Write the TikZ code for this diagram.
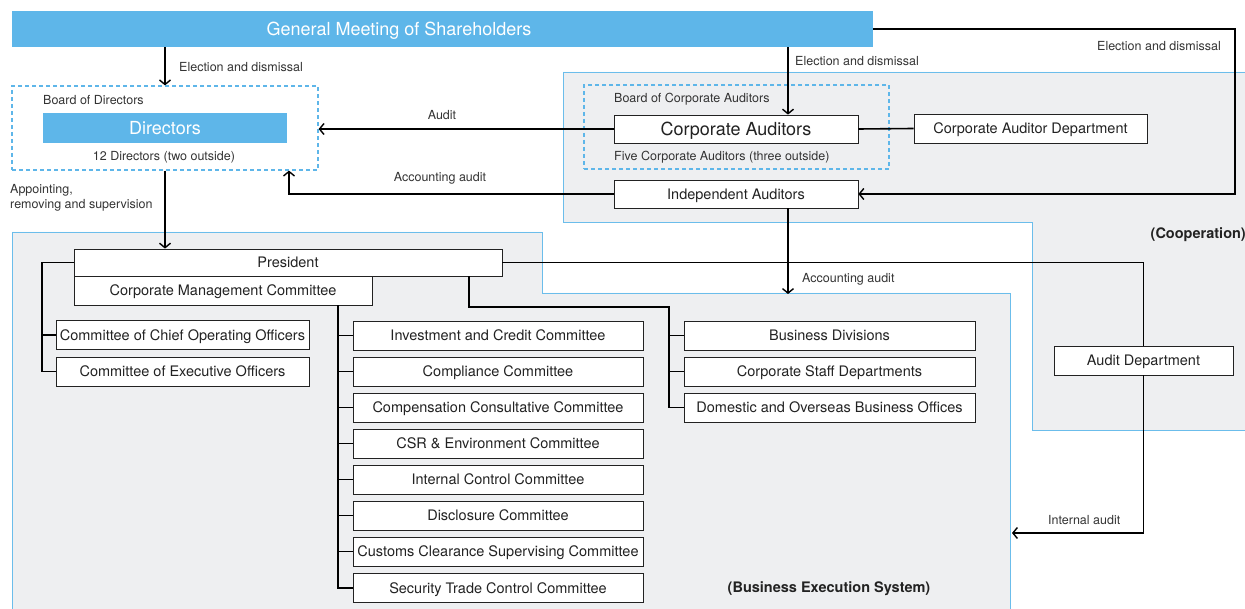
\documentclass[tikz,border=0pt]{standalone}
\usepackage{fontspec}
\setmainfont{TeX Gyre Heros}
\usetikzlibrary{arrows.meta,calc}
\definecolor{sky}{HTML}{5EB6E9}
\definecolor{regionfill}{HTML}{EEEFF1}
\definecolor{regionline}{HTML}{6BBDEB}
\definecolor{txt}{HTML}{222222}
\definecolor{lbltxt}{HTML}{333333}
\begin{document}
\begin{tikzpicture}[x=1pt,y=-1pt,
  region/.style={fill=regionfill,draw=regionline,line width=0.9pt},
  box/.style={draw=txt,fill=white,line width=0.8pt,inner sep=0pt,text=txt,
    font=\fontsize{14.5}{17}\selectfont,minimum height=29pt,text height=10.4pt,text depth=0pt},
  bluebox/.style={fill=sky,inner sep=0pt,text=white,font=\fontsize{18}{21}\selectfont,
    text height=13pt,text depth=0pt},
  dbox/.style={draw=sky,line width=1.2pt,dash pattern=on 4pt off 3pt,inner sep=0pt},
  lbl/.style={inner sep=0pt,text=lbltxt,font=\fontsize{12.5}{15.5}\selectfont},
  blbl/.style={inner sep=0pt,text=txt,font=\fontsize{14.5}{16}\selectfont\bfseries},
  conn/.style={draw=black,line width=1.6pt},
  arr/.style={conn,-{Straight Barb[length=4.5pt,width=11pt,line width=1.4pt]}}
]
\useasboundingbox (0,0) rectangle (1245,609);
\clip (0,0) rectangle (1245,609);

% regions
\path[region] (12,232) -- (542,232) -- (542,293) -- (1010,293) -- (1010,620) -- (12,620) -- cycle;
\path[region] (563,72) -- (1260,72) -- (1260,430) -- (1032,430) -- (1032,222) -- (563,222) -- cycle;

% top
\node[bluebox,minimum width=861pt,minimum height=36pt] (gms) at (442.5,29) {};
\node[bluebox,fill=none] (gmstext) at (399,29.5) {General Meeting of Shareholders};

% board of directors
\node[dbox,minimum width=306pt,minimum height=84pt] (board) at (165,128) {};
\node[bluebox,minimum width=244pt,minimum height=30pt] (dirs) at (165,128) {Directors};
\node[lbl,anchor=west] (boardlbl) at (43,100) {Board of Directors};
\node[lbl] (dirsnum) at (164,157) {12 Directors (two outside)};

% board of corporate auditors
\node[dbox,minimum width=305pt,minimum height=84pt] (caboard) at (736.5,127) {};
\node[box,minimum width=244pt,minimum height=28pt,font=\fontsize{18}{21}\selectfont,text height=13pt] (ca) at (736,129) {Corporate Auditors};
\node[lbl,anchor=west] (calbl) at (614,99) {Board of Corporate Auditors};
\node[lbl,anchor=west] (canum) at (614,157) {Five Corporate Auditors (three outside)};
\node[box,minimum width=233pt] (cad) at (1030.5,128.5) {Corporate Auditor Department};
\node[box,minimum width=244pt,minimum height=28pt] (ia) at (736,194) {Independent Auditors};

% execution
\node[box,minimum width=428pt,minimum height=27pt] (pres) at (288,262.5) {President};
\node[box,minimum width=298pt] (cmc) at (223,290.5) {Corporate Management Committee};
\node[box,minimum width=253pt] (coo) at (182.5,335) {Committee of Chief Operating Officers};
\node[box,minimum width=253pt] (ceo) at (182.5,371.5) {Committee of Executive Officers};

\foreach \n/\t/\y in {m1/Investment and Credit Committee/335.5,
  m2/Compliance Committee/371.5,
  m3/Compensation Consultative Committee/407.5,
  m4/CSR \& Environment Committee/443.5,
  m5/Internal Control Committee/479.5,
  m6/Disclosure Committee/515.5,
  m7/Customs Clearance Supervising Committee/551.5,
  m8/Security Trade Control Committee/588}
  \node[box,minimum width=290pt] (\n) at (498,\y) {\t};

\node[box,minimum width=291pt] (r1) at (829.5,335.5) {Business Divisions};
\node[box,minimum width=291pt] (r2) at (829.5,371.5) {Corporate Staff Departments};
\node[box,minimum width=291pt] (r3) at (829.5,407.5) {Domestic and Overseas Business Offices};

\node[box,minimum width=179pt] (ad) at (1143.5,360.5) {Audit Department};

% labels
\node[lbl,anchor=west] (l1) at (179,67) {Election and dismissal};
\node[lbl,anchor=west] (l2) at (795,61) {Election and dismissal};
\node[lbl,anchor=east] (l3) at (1221,46) {Election and dismissal};
\node[lbl] (l4) at (442,115) {Audit};
\node[lbl] (l5) at (440,178) {Accounting audit};
\node[lbl,anchor=north west,align=left] (l6) at (10,184) {Appointing,\\removing and supervision};
\node[lbl,anchor=west] (l7) at (802,279.5) {Accounting audit};
\node[lbl,anchor=west] (l8) at (1048,520) {Internal audit};
\node[blbl,anchor=east] (l9) at (1246,235) {(Cooperation)};
\node[blbl] (l10) at (829,589) {(Business Execution System)};

% helper coordinates
\coordinate (c1) at (788,0);
\coordinate (rr) at (1235,0);
\coordinate (acc) at (289,0);
\coordinate (bt) at (788,294);
\coordinate (lsp) at (42,0);
\coordinate (spine) at (338,0);
\coordinate (rdrop) at (469,307);
\coordinate (rsp) at (669,0);
\coordinate (iaend) at (1012,533);

% connectors
\draw[arr] (gms.south -| board.north) -- (board.north);
\draw[arr] (gms.south -| c1) -- (ca.north -| c1);
\draw[arr] (gms.east) -- (gms.east -| rr) -- (ia.east -| rr) -- (ia.east);
\draw[arr] (ca.west) -- (ca.west -| board.east);
\draw[arr] (ia.west) -- (ia.west -| acc) -- (board.south -| acc);
\draw[conn] (ca.east) -- (cad.west);
\draw[arr] (board.south) -- (pres.north -| board.south);
\draw[arr] (ia.south -| c1) -- (bt);

\draw[conn] (pres.west) -- (pres.west -| lsp) -- (ceo.west -| lsp) -- (ceo.west);
\draw[conn] (coo.west -| lsp) -- (coo.west);

\draw[conn] (cmc.south -| spine) -- (m8.west -| spine) -- (m8.west);
\foreach \i in {1,...,7} \draw[conn] (m\i.west -| spine) -- (m\i.west);

\draw[conn] (pres.south -| rdrop) -- (rdrop) -- (rdrop -| rsp) -- (r3.west -| rsp) -- (r3.west);
\draw[conn] (r1.west -| rsp) -- (r1.west);
\draw[conn] (r2.west -| rsp) -- (r2.west);

\draw[conn] (pres.east) -- (pres.east -| ad.north) -- (ad.north);
\draw[arr] (ad.south) -- (ad.south |- iaend) -- (iaend);
\end{tikzpicture}
\end{document}
